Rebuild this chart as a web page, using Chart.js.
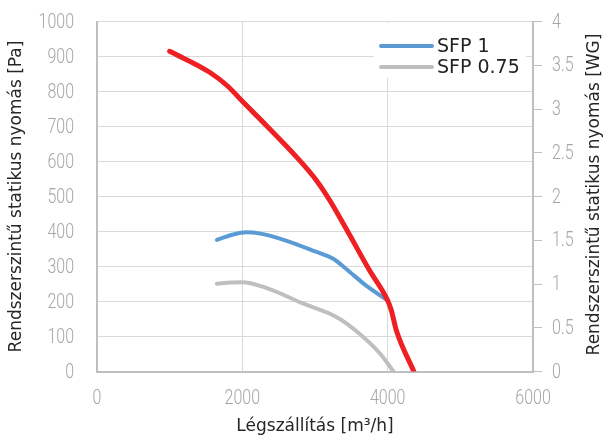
<!DOCTYPE html>
<html>
<head>
<meta charset="utf-8">
<script src="https://cdn.jsdelivr.net/npm/chart.js@4/dist/chart.umd.min.js"></script>
<style>
  html, body { margin: 0; padding: 0; background: #fff; }
  #wrap { width: 607px; height: 437px; }
</style>
</head>
<body>
<div id="wrap"><canvas id="fan-chart" width="607" height="437"></canvas></div>
<script>
// fan curve (red) - air flow [m3/h] / static pressure [Pa]
const fanFlow = [1000, 1550, 1800, 2000, 2330, 2750, 3020, 3200, 3450, 3750, 4000, 4050, 4120, 4360];
const fanPressure = [915, 855, 815, 772, 703, 612, 546, 490, 400, 289, 203, 175, 117, 0];

// SFP 1 curve
const sfp1Flow = [1650, 1850, 2050, 2250, 2600, 3000, 3250, 3430, 3700, 4000];
const sfp1Pressure = [376, 390, 398, 394, 374, 343, 322, 293, 246, 203];

// SFP 0.75 curve
const sfp075Flow = [1650, 1850, 2000, 2300, 2850, 3300, 3600, 3900, 4080];
const sfp075Pressure = [251, 254, 255, 241, 193, 155, 110, 50, 0];

const legendLabels = ['SFP 1', 'SFP 0.75'];
const xTitle = 'Légszállítás [m³/h]';
const yTitle = 'Rendszerszintű statikus nyomás [Pa]';
const y2Title = 'Rendszerszintű statikus nyomás [WG]';

const toPoints = (xs, ys) => xs.map((x, i) => ({ x: x, y: ys[i] }));

const titleFont = { family: "'DejaVu Sans', sans-serif", size: 17 };
const tickCss = "300 20px Roboto, 'DejaVu Sans', sans-serif";
const tickColor = '#a6a6a6';
const gridColor = '#d9d9d9';
const axisColor = '#bfbfbf';

// legend drawn inside the plot, on a white box
const legendBox = {
    id: 'legendBox',
    afterDatasetsDraw(chart) {
        const ctx = chart.ctx;
        ctx.save();
        ctx.fillStyle = '#ffffff';
        ctx.fillRect(374, 23, 152, 55);
        let y = 46;
        chart.data.datasets.forEach(ds => {
            if (!legendLabels.includes(ds.label)) return;
            ctx.strokeStyle = ds.borderColor;
            ctx.lineWidth = 4;
            ctx.lineCap = 'round';
            ctx.beginPath();
            ctx.moveTo(381, y);
            ctx.lineTo(432, y);
            ctx.stroke();
            ctx.fillStyle = '#222222';
            ctx.font = "19px 'DejaVu Sans', sans-serif";
            ctx.textBaseline = 'middle';
            ctx.textAlign = 'left';
            ctx.fillText(ds.label, 437, y + 1);
            y += 21;
        });
        ctx.restore();
    }
};

// thin, narrow tick labels (the original uses a condensed light face)
const narrowTicks = {
    id: 'narrowTicks',
    afterDraw(chart) {
        const ctx = chart.ctx;
        const area = chart.chartArea;
        const label = (text, x, y, align) => {
            ctx.save();
            ctx.translate(x, y);
            ctx.scale(0.8, 1);
            ctx.textAlign = align;
            ctx.fillText(text, 0, 0);
            ctx.restore();
        };
        ctx.save();
        ctx.font = tickCss;
        ctx.fillStyle = tickColor;
        ctx.textBaseline = 'middle';
        const sx = chart.scales.x, sy = chart.scales.y, sy2 = chart.scales.y2;
        sx.ticks.forEach(t => label(String(t.value), sx.getPixelForValue(t.value), area.bottom + 27, 'center'));
        sy.ticks.forEach(t => label(String(t.value), area.left - 23, sy.getPixelForValue(t.value) + 1, 'right'));
        sy2.ticks.forEach(t => label(String(t.value), area.right + 19, sy2.getPixelForValue(t.value) + 1, 'left'));
        ctx.restore();
    }
};

// right axis title reads bottom-to-top like the left one
const rightTitle = {
    id: 'rightTitle',
    afterDraw(chart) {
        const ctx = chart.ctx;
        const area = chart.chartArea;
        ctx.save();
        ctx.translate(595, (area.top + area.bottom) / 2 - 2);
        ctx.rotate(-Math.PI / 2);
        ctx.fillStyle = '#262626';
        ctx.font = "17px 'DejaVu Sans', sans-serif";
        ctx.textAlign = 'center';
        ctx.textBaseline = 'middle';
        ctx.fillText(y2Title, 0, 0);
        ctx.restore();
    }
};

const ctx = document.getElementById('fan-chart').getContext('2d');
const chart = new Chart(ctx, {
    type: 'line',
    data: {
        datasets: [{
            label: 'Fan',
            data: toPoints(fanFlow, fanPressure),
            borderColor: '#ee2024',
            borderWidth: 5,
            yAxisID: 'y'
        }, {
            label: legendLabels[0],
            data: toPoints(sfp1Flow, sfp1Pressure),
            borderColor: '#5b9bd5',
            borderWidth: 4,
            yAxisID: 'y'
        }, {
            label: legendLabels[1],
            data: toPoints(sfp075Flow, sfp075Pressure),
            borderColor: '#bfbfbf',
            borderWidth: 4,
            yAxisID: 'y'
        }]
    },
    options: {
        responsive: false,
        animation: false,
        layout: { padding: { top: 21.5, left: 0, right: 0, bottom: 0 } },
        elements: {
            point: { radius: 0, hoverRadius: 0 },
            line: { cubicInterpolationMode: 'monotone', borderCapStyle: 'round', fill: false }
        },
        plugins: {
            legend: { display: false },
            tooltip: { enabled: false }
        },
        scales: {
            x: {
                type: 'linear',
                min: 0,
                max: 6000,
                ticks: { stepSize: 2000, display: false },
                grid: { color: gridColor, drawTicks: false },
                border: { color: axisColor, width: 2 },
                title: { display: true, text: xTitle, font: titleFont, color: '#262626', padding: { top: 8, bottom: 0 } },
                afterFit: s => { s.height = 65.5; }
            },
            y: {
                position: 'left',
                min: 0,
                max: 1000,
                ticks: { stepSize: 100, display: false },
                grid: { color: gridColor, drawTicks: false },
                border: { color: axisColor, width: 2 },
                title: { display: true, text: yTitle, font: titleFont, color: '#262626', padding: { top: 6, bottom: 0 } },
                afterFit: s => { s.width = 97; }
            },
            y2: {
                position: 'right',
                min: 0,
                max: 4,
                ticks: { stepSize: 0.5, display: false },
                grid: { drawOnChartArea: false, drawTicks: true, tickLength: 9, tickColor: axisColor },
                border: { color: axisColor, width: 2 },
                afterFit: s => { s.width = 74; }
            }
        }
    },
    plugins: [legendBox, narrowTicks, rightTitle]
});
</script>
</body>
</html>
